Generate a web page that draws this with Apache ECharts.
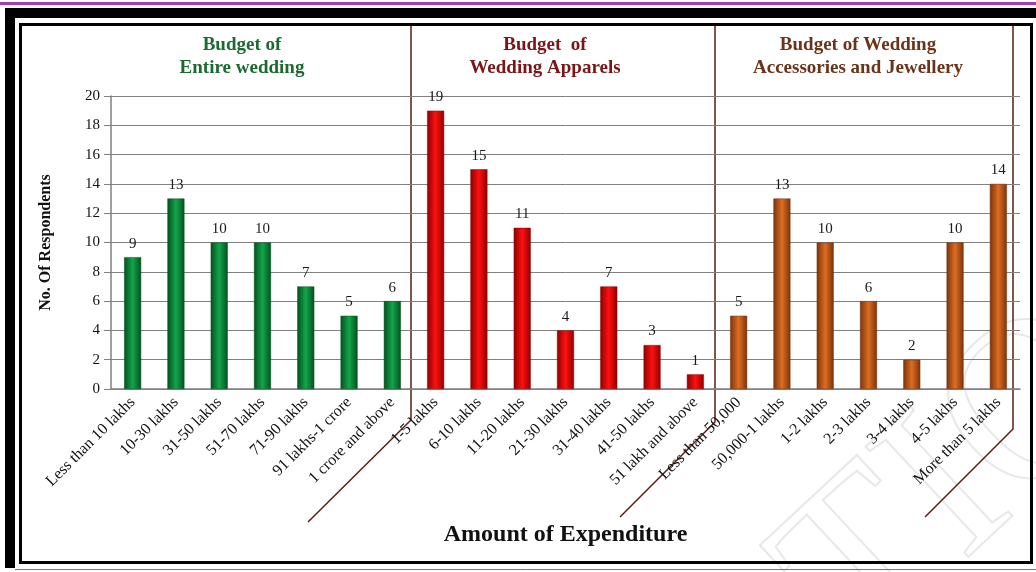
<!DOCTYPE html>
<html>
<head>
<meta charset="utf-8">
<script src="https://cdn.jsdelivr.net/npm/echarts@6/dist/echarts.min.js"></script>
<style>
  html, body { margin: 0; padding: 0; background: #ffffff; }
  #chart { width: 1036px; height: 572px; }
</style>
</head>
<body>
<div id="chart"></div>
<script>
// Expenditure ranges for each budget group
const weddingRanges = ['Less than 10 lakhs', '10-30 lakhs', '31-50 lakhs', '51-70 lakhs', '71-90 lakhs', '91 lakhs-1 crore', '1 crore and above'];
const apparelRanges = ['1-5 lakhs', '6-10 lakhs', '11-20 lakhs', '21-30 lakhs', '31-40 lakhs', '41-50 lakhs', '51 lakh and above'];
const accessoryRanges = ['Less than 50,000', '50,000-1 lakhs', '1-2 lakhs', '2-3 lakhs', '3-4 lakhs', '4-5 lakhs', 'More than 5 lakhs'];

// Number of respondents per range
const weddingCounts = [9, 13, 10, 10, 7, 5, 6];
const apparelCounts = [19, 15, 11, 4, 7, 3, 1];
const accessoryCounts = [5, 13, 10, 6, 2, 10, 14];

// Group headings
const groupTitles = ['Budget of\nEntire wedding', 'Budget  of\nWedding Apparels', 'Budget of Wedding\nAccessories and Jewellery'];

const yTicks = { min: 0, max: 20, interval: 2 };

const categories = weddingRanges.concat(apparelRanges, accessoryRanges);
const n1 = weddingRanges.length, n2 = apparelRanges.length, n3 = accessoryRanges.length;

function padded(values, before, after) {
  return new Array(before).fill(null).concat(values, new Array(after).fill(null));
}

function cylinder(edge, mid) {
  return new echarts.graphic.LinearGradient(0, 0, 1, 0, [
    { offset: 0, color: edge },
    { offset: 0.5, color: mid },
    { offset: 1, color: edge }
  ]);
}

const serif = '"Liberation Serif", "DejaVu Serif", serif';

function barSeries(name, data, edge, mid) {
  return {
    name: name,
    type: 'bar',
    data: data,
    barWidth: 17,
    barGap: '-100%',
    itemStyle: { color: cylinder(edge, mid), borderColor: edge, borderWidth: 0.5 },
    label: {
      show: true,
      position: 'top',
      distance: 6,
      fontFamily: serif,
      fontSize: 15,
      color: '#1a1a1a'
    }
  };
}

const chart = echarts.init(document.getElementById('chart'), null, { renderer: 'canvas' });

const option = {
  backgroundColor: '#ffffff',
  animation: false,
  grid: { left: 111, right: 16, top: 96, bottom: 183 },
  xAxis: {
    type: 'category',
    data: categories,
    axisLine: { lineStyle: { color: '#808080', width: 1.5 } },
    axisTick: { show: false },
    axisLabel: {
      interval: 0,
      rotate: 45,
      margin: 11,
      fontFamily: serif,
      fontSize: 16,
      color: '#111111'
    },
    name: 'Amount of Expenditure',
    nameLocation: 'middle',
    nameGap: 134,
    nameTextStyle: { fontFamily: serif, fontSize: 24, fontWeight: 'bold', color: '#111111' }
  },
  yAxis: {
    type: 'value',
    min: yTicks.min,
    max: yTicks.max,
    interval: yTicks.interval,
    axisLine: { show: true, lineStyle: { color: '#808080', width: 1.5 } },
    axisTick: { show: true, length: 7, lineStyle: { color: '#808080' } },
    splitLine: { lineStyle: { color: '#808080', width: 1 } },
    axisLabel: { margin: 11, fontFamily: serif, fontSize: 15, color: '#111111' },
    name: 'No. Of Respondents',
    nameLocation: 'middle',
    nameGap: 57,
    nameTextStyle: { fontFamily: serif, fontSize: 16, fontWeight: 'bold', color: '#111111' }
  },
  series: [
    barSeries('Entire wedding', padded(weddingCounts, 0, n2 + n3), '#04501f', '#13a54b'),
    barSeries('Wedding Apparels', padded(apparelCounts, n1, n3), '#8e0000', '#ff1010'),
    barSeries('Accessories and Jewellery', padded(accessoryCounts, n1 + n2, 0), '#7a330c', '#dd6d22')
  ],
  graphic: [
    // page frame
    { type: 'rect', shape: { x: 0, y: 2, width: 1036, height: 3 }, style: { fill: '#a63db8' } },
    { type: 'rect', shape: { x: 5, y: 8, width: 1031, height: 10 }, style: { fill: '#000000' } },
    { type: 'rect', shape: { x: 5, y: 8, width: 10, height: 560 }, style: { fill: '#000000' } },
    { type: 'rect', shape: { x: 20.5, y: 24.5, width: 1011, height: 538 }, style: { fill: null, stroke: '#000000', lineWidth: 3 } },
    { type: 'line', shape: { x1: 15, y1: 569.5, x2: 1036, y2: 569.5 }, style: { stroke: '#777777', lineWidth: 1 } },
    // faint watermark
    {
      type: 'text', x: 740, y: 530, rotation: 0.75, z: -1,
      style: { text: 'TIO', font: '230px "Liberation Serif", serif', fill: null, stroke: '#e8e8e8', lineWidth: 2 }
    },
    // group separators
    { type: 'polyline', shape: { points: [[411, 26], [411, 420], [308, 522]] }, style: { stroke: '#5b1d12', lineWidth: 1.5, fill: null } },
    { type: 'polyline', shape: { points: [[715, 26], [715, 422], [620, 517]] }, style: { stroke: '#5b1d12', lineWidth: 1.5, fill: null } },
    { type: 'polyline', shape: { points: [[1013, 26], [1013, 429], [925, 517]] }, style: { stroke: '#5b1d12', lineWidth: 1.5, fill: null } },
    // group headings
    {
      type: 'text', x: 242, y: 34,
      style: { text: groupTitles[0], font: 'bold 19px "Liberation Serif", serif', fill: '#1b6a31', textAlign: 'center', lineHeight: 23 }
    },
    {
      type: 'text', x: 545, y: 34,
      style: { text: groupTitles[1], font: 'bold 19px "Liberation Serif", serif', fill: '#7b1518', textAlign: 'center', lineHeight: 23 }
    },
    {
      type: 'text', x: 858, y: 34,
      style: { text: groupTitles[2], font: 'bold 19px "Liberation Serif", serif', fill: '#6a3419', textAlign: 'center', lineHeight: 23 }
    }
  ]
};

chart.setOption(option);
</script>
</body>
</html>
